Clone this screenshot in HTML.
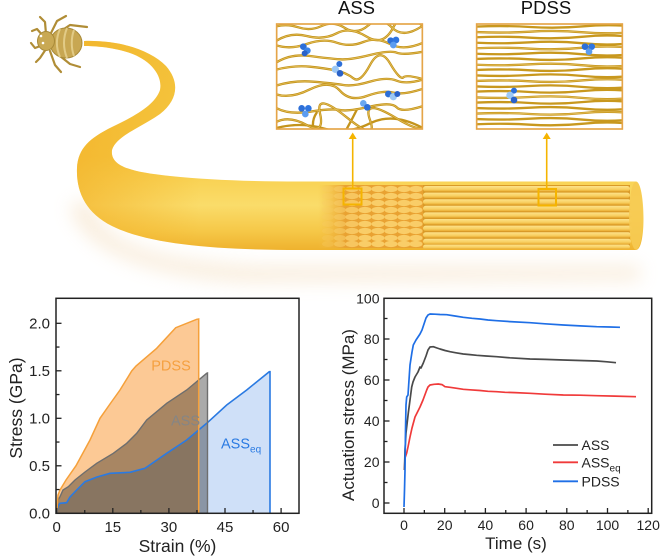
<!DOCTYPE html>
<html><head><meta charset="utf-8">
<style>
html,body{margin:0;padding:0;background:#fff;}
svg{display:block;}
text{font-family:"Liberation Sans",Arial,sans-serif;}
</style></head>
<body>
<svg width="665" height="558" viewBox="0 0 665 558" xmlns="http://www.w3.org/2000/svg">
<defs>
  <filter id="blur8" x="-20%" y="-50%" width="140%" height="200%"><feGaussianBlur stdDeviation="9"/></filter>
  <linearGradient id="fib" x1="0" y1="40" x2="0" y2="252" gradientUnits="userSpaceOnUse">
    <stop offset="0" stop-color="#f3c23a"/>
    <stop offset="0.55" stop-color="#f6c842"/>
    <stop offset="0.68" stop-color="#f9d458"/>
    <stop offset="0.78" stop-color="#fadc6a"/>
    <stop offset="0.9" stop-color="#f6c848"/>
    <stop offset="1" stop-color="#eeb02c"/>
  </linearGradient>
  <linearGradient id="fibL" x1="70" y1="0" x2="200" y2="0" gradientUnits="userSpaceOnUse">
    <stop offset="0" stop-color="#f2b128" stop-opacity="0.7"/>
    <stop offset="1" stop-color="#f2b128" stop-opacity="0"/>
  </linearGradient>
  <linearGradient id="rod" x1="0" y1="0" x2="0" y2="1">
    <stop offset="0" stop-color="#fde28a"/>
    <stop offset="0.6" stop-color="#f8d062"/>
    <stop offset="1" stop-color="#e9ac32"/>
  </linearGradient>
  <linearGradient id="assfade" x1="318" y1="0" x2="345" y2="0" gradientUnits="userSpaceOnUse">
    <stop offset="0" stop-color="#f4be44" stop-opacity="0"/>
    <stop offset="1" stop-color="#e9a232" stop-opacity="1"/>
  </linearGradient>
  <clipPath id="clipA"><rect x="20" y="72" width="437" height="315"/></clipPath>
  <clipPath id="clipP"><rect x="620" y="72" width="437" height="315"/></clipPath>
  <clipPath id="fclip"><rect x="300" y="181.5" width="340" height="68.5"/></clipPath>
</defs>

<!-- ===== TOP ILLUSTRATION ===== -->
<path d="M90,200 C100,245 160,262 260,266 L640,266 L640,280 L250,282 C150,278 80,250 70,205 Z" fill="#f0d2a8" opacity="0.4" filter="url(#blur8)"/>

<path d="M84,41 C120,40 150,50 166,66 C180,82 178,100 160,114 C140,128 116,136 112,150 C110,166 130,172 170,176 C210,180 250,181.5 300,181.5 L636,181.5 C645,181.5 647,250 636,250 L300,250 C220,250 150,245 112,226 C86,213 76,192 77,168 C78,148 90,138 112,127 C135,116 155,105 160,90 C163,75 150,60 130,53 C112,47 95,46 84,46 Z" fill="url(#fib)"/>
<path d="M84,41 C120,40 150,50 166,66 C180,82 178,100 160,114 C140,128 116,136 112,150 C110,166 130,172 170,176 C210,180 250,181.5 300,181.5 L300,250 C220,250 150,245 112,226 C86,213 76,192 77,168 C78,148 90,138 112,127 C135,116 155,105 160,90 C163,75 150,60 130,53 C112,47 95,46 84,46 Z" fill="url(#fibL)"/>

<g clip-path="url(#fclip)">
  <rect x="318" y="185" width="312" height="63" fill="url(#assfade)"/>
  <rect x="423" y="185" width="207" height="63" fill="#d99a28"/>
  <g fill="#f9cd68">
    <g id="bumprow">
      <ellipse cx="328" cy="0" rx="6" ry="3" opacity="0.3"/>
      <ellipse cx="340" cy="0" rx="6" ry="3" opacity="0.6"/>
      <ellipse cx="352" cy="0" rx="6.5" ry="3.1" opacity="0.85"/>
      <ellipse cx="365" cy="0" rx="6.5" ry="3.1"/>
      <ellipse cx="378" cy="0" rx="6.5" ry="3.1"/>
      <ellipse cx="391" cy="0" rx="6.5" ry="3.1"/>
      <ellipse cx="404" cy="0" rx="6.5" ry="3.1"/>
      <ellipse cx="416" cy="0" rx="6.5" ry="3.1"/>
    </g>
    <use href="#bumprow" y="189"/>
    <use href="#bumprow" y="196"/>
    <use href="#bumprow" y="203"/>
    <use href="#bumprow" y="210"/>
    <use href="#bumprow" y="217"/>
    <use href="#bumprow" y="224"/>
    <use href="#bumprow" y="231"/>
    <use href="#bumprow" y="238"/>
    <use href="#bumprow" y="244"/>
  </g>
  <g fill="url(#rod)">
    <rect x="423" y="186" width="207" height="5.4" rx="2.7"/>
    <rect x="423" y="192.6" width="207" height="5.4" rx="2.7"/>
    <rect x="423" y="199.2" width="208" height="5.4" rx="2.7"/>
    <rect x="423" y="205.8" width="208" height="5.4" rx="2.7"/>
    <rect x="423" y="212.4" width="209" height="5.4" rx="2.7"/>
    <rect x="423" y="219" width="209" height="5.4" rx="2.7"/>
    <rect x="423" y="225.6" width="209" height="5.4" rx="2.7"/>
    <rect x="423" y="232.2" width="208" height="5.4" rx="2.7"/>
    <rect x="423" y="238.8" width="208" height="5.4" rx="2.7"/>
    <rect x="423" y="244.6" width="207" height="4.5" rx="2.2"/>
  </g>
</g>
<ellipse cx="636" cy="215.7" rx="7" ry="34" fill="#f6ca52" opacity="0.9"/>

<g stroke="#b08d36" stroke-width="2.2" fill="none" stroke-linecap="round" stroke-linejoin="round">
  <path d="M44,37 L37,29 L32,31"/>
  <path d="M46,34 L45,22 L40,17"/>
  <path d="M51,33 L57,21 L66,16"/>
  <path d="M55,35 L70,25 L87,27"/>
  <path d="M43,45 L35,48 L31,43"/>
  <path d="M46,49 L40,58 L36,62"/>
  <path d="M50,51 L55,65 L61,72"/>
  <path d="M55,52 L70,64 L80,67"/>
</g>
<ellipse cx="66" cy="43" rx="16" ry="15" fill="#c8a752" stroke="#a88a38" stroke-width="1"/>
<path d="M60,29 C56,38 56,48 60,57 M67,28 C63,38 63,48 67,58 M74,30 C71,38 71,48 74,56" stroke="#e2cb86" stroke-width="2" fill="none"/>
<ellipse cx="46" cy="41" rx="8.5" ry="9.5" fill="#c9a954" stroke="#a88a38" stroke-width="1"/>
<circle cx="41" cy="36" r="1.3" fill="#fff"/>
<circle cx="43" cy="43" r="1.3" fill="#fff"/>

<g stroke="#f5b400" fill="none">
  <line x1="352.7" y1="138" x2="352.7" y2="188.5" stroke-width="1.6"/>
  <line x1="546.7" y1="138" x2="546.7" y2="189" stroke-width="1.6"/>
  <rect x="343.5" y="188.5" width="18" height="16" stroke-width="2"/>
  <rect x="538.5" y="189" width="17.5" height="16.5" stroke-width="2"/>
</g>
<path d="M348.7,139 L352.7,132.5 L356.7,139 Z" fill="#f5b400"/>
<path d="M542.7,139 L546.7,132.5 L550.7,139 Z" fill="#f5b400"/>

<text x="356.5" y="14" font-size="18.5" text-anchor="middle" fill="#111">ASS</text>
<text x="546" y="14" font-size="18.5" text-anchor="middle" fill="#111">PDSS</text>

<g transform="translate(270,0) scale(0.33333)">
  <rect x="20" y="72" width="437" height="315" fill="#fff"/>
  <g clip-path="url(#clipA)" fill="none" stroke-linecap="round">
    <g stroke="#c4941c" stroke-width="7">
      <path d="M15,80 Q50,70 85,82 T155,78 T225,84 T295,76 T365,82 T460,76"/>
      <path d="M15,125 Q60,95 110,108 T200,100 T290,110 T370,82 T460,80"/>
      <path d="M15,135 Q60,150 110,132 T200,128 T280,126 T360,132 T460,128"/>
      <path d="M15,190 Q60,160 120,168 T210,178 T300,165 T380,158 T460,155"/>
      <path d="M15,210 Q70,195 120,200 T200,212 T250,235 T300,195 T360,190 T400,232 T460,238"/>
      <path d="M15,258 Q70,240 130,245 T220,255 T300,245 T380,242 T460,238"/>
      <path d="M15,282 Q60,298 120,268 T210,272 T290,288 T370,278 T460,266"/>
      <path d="M15,322 Q55,345 120,335 T210,330 T300,320 T380,322 T460,318"/>
      <path d="M15,368 Q55,345 110,375 T150,340 T230,352 T300,360 T380,355 T460,345"/>
      <path d="M15,385 Q90,365 160,385 T300,370 T460,385"/>
      <path d="M230,387 Q245,360 260,330"/>
      <path d="M130,387 Q125,360 140,338"/>
    </g>
    <g stroke="#efcf70" stroke-width="2" opacity="0.8">
      <path d="M15,80 Q50,70 85,82 T155,78 T225,84 T295,76 T365,82 T460,76"/>
      <path d="M15,125 Q60,95 110,108 T200,100 T290,110 T370,82 T460,80"/>
      <path d="M15,135 Q60,150 110,132 T200,128 T280,126 T360,132 T460,128"/>
      <path d="M15,190 Q60,160 120,168 T210,178 T300,165 T380,158 T460,155"/>
      <path d="M15,210 Q70,195 120,200 T200,212 T250,235 T300,195 T360,190 T400,232 T460,238"/>
      <path d="M15,258 Q70,240 130,245 T220,255 T300,245 T380,242 T460,238"/>
      <path d="M15,282 Q60,298 120,268 T210,272 T290,288 T370,278 T460,266"/>
      <path d="M15,322 Q55,345 120,335 T210,330 T300,320 T380,322 T460,318"/>
      <path d="M15,368 Q55,345 110,375 T150,340 T230,352 T300,360 T380,355 T460,345"/>
    </g>
    <g>
      <circle cx="100" cy="140" r="10" fill="#2d6fd8"/><circle cx="112" cy="152" r="10" fill="#3b84e8"/><circle cx="104" cy="160" r="9" fill="#2a62c8"/>
      <circle cx="362" cy="122" r="10" fill="#2d6fd8"/><circle cx="378" cy="120" r="10" fill="#2f75e0"/><circle cx="370" cy="135" r="10" fill="#5b9cf0"/>
      <circle cx="208" cy="192" r="9" fill="#2d6fd8"/><circle cx="196" cy="208" r="11" fill="#9cc8f5"/><circle cx="210" cy="220" r="10" fill="#2a62c8"/>
      <circle cx="355" cy="282" r="10" fill="#2d6fd8"/><circle cx="370" cy="290" r="11" fill="#9cc8f5"/><circle cx="382" cy="282" r="9" fill="#2a62c8"/>
      <circle cx="280" cy="310" r="10" fill="#6aa8f0"/><circle cx="292" cy="322" r="10" fill="#2d6fd8"/>
      <circle cx="95" cy="325" r="10" fill="#2d6fd8"/><circle cx="115" cy="325" r="10" fill="#2f75e0"/><circle cx="106" cy="342" r="10" fill="#5b9cf0"/>
    </g>
  </g>
  <rect x="20" y="72" width="437" height="315" fill="none" stroke="#e5a548" stroke-width="5"/>

  <rect x="620" y="72" width="437" height="315" fill="#fff"/>
  <g clip-path="url(#clipP)" fill="none">
    <g stroke="#c8981e" stroke-width="7">
      <path d="M615,80 Q700,76 780,81 T940,79 T1100,80"/>
      <path d="M615,96 Q700,100 780,95 T940,97 T1100,95"/>
      <path d="M615,112 Q700,108 780,113 T940,110 T1100,112"/>
      <path d="M615,128 Q700,132 780,127 T940,130 T1100,128"/>
      <path d="M615,145 Q700,141 780,146 T940,143 T1100,145"/>
      <path d="M615,161 Q700,165 780,160 T940,163 T1100,161"/>
      <path d="M615,177 Q700,173 780,178 T940,175 T1100,177"/>
      <path d="M615,194 Q700,198 780,193 T940,196 T1100,194"/>
      <path d="M615,210 Q700,206 780,211 T940,208 T1100,210"/>
      <path d="M615,226 Q700,230 780,225 T940,228 T1100,226"/>
      <path d="M615,243 Q700,239 780,244 T940,241 T1100,243"/>
      <path d="M615,259 Q700,263 780,258 T940,261 T1100,259"/>
      <path d="M615,275 Q700,271 780,276 T940,273 T1100,275"/>
      <path d="M615,292 Q700,296 780,291 T940,294 T1100,292"/>
      <path d="M615,308 Q700,304 780,309 T940,306 T1100,308"/>
      <path d="M615,324 Q700,328 780,323 T940,326 T1100,324"/>
      <path d="M615,341 Q700,337 780,342 T940,339 T1100,341"/>
      <path d="M615,357 Q700,361 780,356 T940,359 T1100,357"/>
      <path d="M615,373 Q700,369 780,374 T940,371 T1100,373"/>
    </g>
    <g stroke="#f0d17a" stroke-width="2" opacity="0.8">
      <path d="M615,96 Q700,100 780,95 T940,97 T1100,95"/>
      <path d="M615,145 Q700,141 780,146 T940,143 T1100,145"/>
      <path d="M615,194 Q700,198 780,193 T940,196 T1100,194"/>
      <path d="M615,243 Q700,239 780,244 T940,241 T1100,243"/>
      <path d="M615,292 Q700,296 780,291 T940,294 T1100,292"/>
      <path d="M615,341 Q700,337 780,342 T940,339 T1100,341"/>
    </g>
    <circle cx="945" cy="140" r="10" fill="#2d6fd8"/><circle cx="965" cy="140" r="10" fill="#2f75e0"/><circle cx="957" cy="155" r="10" fill="#5b9cf0"/>
    <circle cx="732" cy="272" r="9" fill="#2d6fd8"/><circle cx="720" cy="286" r="11" fill="#9cc8f5"/><circle cx="732" cy="300" r="10" fill="#2a62c8"/>
  </g>
  <rect x="620" y="72" width="437" height="315" fill="none" stroke="#e5a548" stroke-width="5"/>
</g>

<!-- ===== LEFT CHART ===== -->
<g>
  <path d="M56.7,513.3 L58,506 L60,503.3 L66.7,502.7 L70,497 L76.7,490 L85,481.7 L97,477 L110,473.3 L130,472.3 L145,468.3 L166.7,453.3 L186.7,440 L206.7,423.3 L226.7,405 L246.7,390 L269.3,371.7 L270,371.7 L270,513.3 Z" fill="#cfe0f8" style="mix-blend-mode:multiply"/>
  <path d="M56.7,513.3 L58,500 L60,496.7 L63,490 L68.3,486.7 L75,480 L85,472 L96.7,463.3 L113.3,453.3 L126.7,443.3 L136.7,433.3 L146.7,420 L166.7,403.3 L186.7,390 L206.7,373.3 L207.5,373 L207.5,513.3 Z" fill="#aaaaaa" style="mix-blend-mode:multiply"/>
  <path d="M56.7,513.3 L58,495 L60,490 L66,480 L76,465.7 L90,440 L100,418.3 L110,404 L120,390 L131.7,371 L136,366 L156.7,348.3 L175.7,327.7 L196.7,319.3 L198.7,319 L198.7,513.3 Z" fill="#fcc995" style="mix-blend-mode:multiply"/>
  <path d="M56.7,513.3 L58,506 L60,503.3 L66.7,502.7 L70,497 L76.7,490 L85,481.7 L97,477 L110,473.3 L130,472.3 L145,468.3 L166.7,453.3 L186.7,440 L206.7,423.3 L226.7,405 L246.7,390 L269.3,371.7 L270,371.7 L270,513.3" fill="none" stroke="#2a7ae2" stroke-width="1.6"/>
  <path d="M56.7,513.3 L58,500 L60,496.7 L63,490 L68.3,486.7 L75,480 L85,472 L96.7,463.3 L113.3,453.3 L126.7,443.3 L136.7,433.3 L146.7,420 L166.7,403.3 L186.7,390 L206.7,373.3 L207.5,373 L207.5,513.3" fill="none" stroke="#6e6e6e" stroke-width="1.4"/>
  <path d="M56.7,513.3 L58,495 L60,490 L66,480 L76,465.7 L90,440 L100,418.3 L110,404 L120,390 L131.7,371 L136,366 L156.7,348.3 L175.7,327.7 L196.7,319.3 L198.7,319 L198.7,513.3" fill="none" stroke="#f5a03a" stroke-width="1.5"/>

  <text x="171" y="370.5" font-size="14.5" text-anchor="middle" fill="#f5a040">PDSS</text>
  <text x="185.5" y="425.5" font-size="14.5" text-anchor="middle" fill="#858585">ASS</text>
  <text x="221" y="448.5" font-size="14.5" fill="#2a7ae2">ASS<tspan font-size="10" dy="4">eq</tspan></text>

  <rect x="56" y="298.3" width="243" height="215" fill="none" stroke="#222" stroke-width="1.5"/>
  <g stroke="#222" stroke-width="1.3">
    <line x1="56.7" y1="513" x2="56.7" y2="508"/>
    <line x1="112.8" y1="513" x2="112.8" y2="508"/>
    <line x1="168.9" y1="513" x2="168.9" y2="508"/>
    <line x1="225" y1="513" x2="225" y2="508"/>
    <line x1="281.1" y1="513" x2="281.1" y2="508"/>
    <line x1="84.75" y1="513" x2="84.75" y2="510"/>
    <line x1="140.85" y1="513" x2="140.85" y2="510"/>
    <line x1="196.95" y1="513" x2="196.95" y2="510"/>
    <line x1="253.05" y1="513" x2="253.05" y2="510"/>
    <line x1="56.5" y1="465.8" x2="61.5" y2="465.8"/>
    <line x1="56.5" y1="418.3" x2="61.5" y2="418.3"/>
    <line x1="56.5" y1="370.8" x2="61.5" y2="370.8"/>
    <line x1="56.5" y1="323.3" x2="61.5" y2="323.3"/>
    <line x1="56.5" y1="489.55" x2="59.5" y2="489.55"/>
    <line x1="56.5" y1="442.05" x2="59.5" y2="442.05"/>
    <line x1="56.5" y1="394.55" x2="59.5" y2="394.55"/>
    <line x1="56.5" y1="347.05" x2="59.5" y2="347.05"/>
  </g>
  <g font-size="15" fill="#222" text-anchor="end">
    <text x="50" y="518.5">0.0</text>
    <text x="50" y="471">0.5</text>
    <text x="50" y="423.5">1.0</text>
    <text x="50" y="376">1.5</text>
    <text x="50" y="328.5">2.0</text>
  </g>
  <g font-size="15" fill="#222" text-anchor="middle">
    <text x="56.7" y="532">0</text>
    <text x="112.8" y="532">15</text>
    <text x="168.9" y="532">30</text>
    <text x="225" y="532">45</text>
    <text x="281.1" y="532">60</text>
  </g>
  <text x="177.5" y="552" font-size="17.5" text-anchor="middle" fill="#222">Strain (%)</text>
  <text transform="translate(22,408) rotate(-90)" font-size="17.5" text-anchor="middle" fill="#222">Stress (GPa)</text>
</g>

<!-- ===== RIGHT CHART ===== -->
<g>
  <rect x="384" y="298.3" width="267.7" height="215" fill="none" stroke="#222" stroke-width="1.5"/>
  <g fill="none" stroke-width="1.7" stroke-linejoin="round">
    <polyline stroke="#f03a3a" points="404.5,470 405,458 406.7,453 408,447 410,437 412,428 415,417 418,411 420,407 423,400 426.7,390 428,387 430,385 434,384.3 438.3,384 442,384.6 445,386.7 450,387.3 456,388.2 463.3,389.3 470,389.8 480,390.5 488,391.3 496.7,391.7 505,392.3 515,392.6 530,393.3 545,394.2 563.3,395 580,395.2 596.7,395.7 615,396.1 636,396.7"/>
    <polyline stroke="#4a4a4a" points="404.5,470 405,450 406,433 408.3,413 410,400 411.7,387 413,382 415,377 418,372 420,367 421,368 423.3,363 426,356 428,350 430,347 433.3,346.7 437,348 440,349 445,350.5 450,351.7 456,352.8 463.3,354 470,354.6 476.7,355.3 486,356 496.7,356.7 510,357.8 530,359 545,359.4 563.3,360 580,360.5 596.7,361 607,361.8 616,362.7"/>
    <polyline stroke="#1f6fe6" points="404,507 404.5,490 405,470 405.5,430 406,405 406.7,397 408,395 409,380 410,365 412,352 413.3,345 416,340 418,337 420,334 422,330 424,324 426,318 428,315 430,314 435,314.2 440,314.5 446.7,314.7 455,316 463.3,317.3 472,318.3 480,319 488,320 496.7,320.7 510,321.6 530,322.7 545,323.8 563.3,325 580,325.9 596.7,326.7 610,327 620,327.3"/>
  </g>
  <g stroke="#222" stroke-width="1.3">
    <line x1="404" y1="513" x2="404" y2="508"/>
    <line x1="444.7" y1="513" x2="444.7" y2="508"/>
    <line x1="485.4" y1="513" x2="485.4" y2="508"/>
    <line x1="526.1" y1="513" x2="526.1" y2="508"/>
    <line x1="566.8" y1="513" x2="566.8" y2="508"/>
    <line x1="607.5" y1="513" x2="607.5" y2="508"/>
    <line x1="648.2" y1="513" x2="648.2" y2="508"/>
    <line x1="424.35" y1="513" x2="424.35" y2="510"/>
    <line x1="465.05" y1="513" x2="465.05" y2="510"/>
    <line x1="505.75" y1="513" x2="505.75" y2="510"/>
    <line x1="546.45" y1="513" x2="546.45" y2="510"/>
    <line x1="587.15" y1="513" x2="587.15" y2="510"/>
    <line x1="627.85" y1="513" x2="627.85" y2="510"/>
    <line x1="384.5" y1="503" x2="389.5" y2="503"/>
    <line x1="384.5" y1="462" x2="389.5" y2="462"/>
    <line x1="384.5" y1="421" x2="389.5" y2="421"/>
    <line x1="384.5" y1="380" x2="389.5" y2="380"/>
    <line x1="384.5" y1="339" x2="389.5" y2="339"/>
    <line x1="384.5" y1="482.5" x2="387.5" y2="482.5"/>
    <line x1="384.5" y1="441.5" x2="387.5" y2="441.5"/>
    <line x1="384.5" y1="400.5" x2="387.5" y2="400.5"/>
    <line x1="384.5" y1="359.5" x2="387.5" y2="359.5"/>
    <line x1="384.5" y1="318.5" x2="387.5" y2="318.5"/>
  </g>
  <g font-size="14" fill="#222" text-anchor="end">
    <text x="379.5" y="508">0</text>
    <text x="379.5" y="467">20</text>
    <text x="379.5" y="426">40</text>
    <text x="379.5" y="385">60</text>
    <text x="379.5" y="344">80</text>
    <text x="379.5" y="303.3">100</text>
  </g>
  <g font-size="14" fill="#222" text-anchor="middle">
    <text x="404" y="530">0</text>
    <text x="444.7" y="530">20</text>
    <text x="485.4" y="530">40</text>
    <text x="526.1" y="530">60</text>
    <text x="566.8" y="530">80</text>
    <text x="607.5" y="530">100</text>
    <text x="648.2" y="530">120</text>
  </g>
  <text x="516" y="549" font-size="17" text-anchor="middle" fill="#222">Time (s)</text>
  <text transform="translate(354,415) rotate(-90)" font-size="17" text-anchor="middle" fill="#222">Actuation stress (MPa)</text>

  <line x1="553" y1="445" x2="578" y2="445" stroke="#4a4a4a" stroke-width="1.8"/>
  <line x1="553" y1="462.3" x2="578" y2="462.3" stroke="#f03a3a" stroke-width="1.8"/>
  <line x1="553" y1="481.3" x2="578" y2="481.3" stroke="#1f6fe6" stroke-width="1.8"/>
  <g font-size="14" fill="#222">
    <text x="581.5" y="450">ASS</text>
    <text x="581.5" y="467.5">ASS<tspan font-size="10" dy="4">eq</tspan></text>
    <text x="581.5" y="486.5">PDSS</text>
  </g>
</g>
</svg>
</body></html>
